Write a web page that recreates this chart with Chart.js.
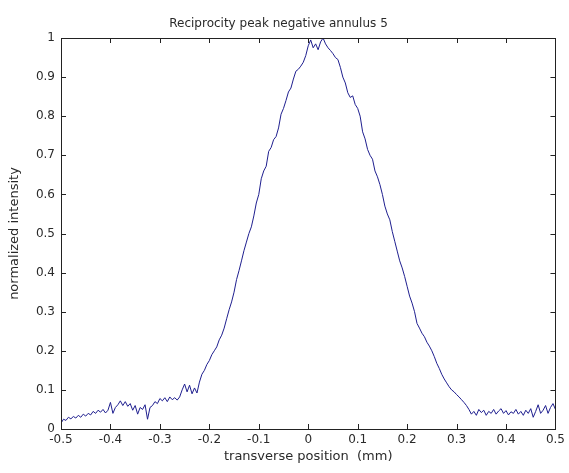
<!DOCTYPE html>
<html>
<head>
<meta charset="utf-8">
<script src="https://cdn.jsdelivr.net/npm/chart.js@4"></script>
<style>
  html, body { margin: 0; padding: 0; background: #fff; }
  #wrap { width: 569px; height: 473px; position: relative; }
</style>
</head>
<body>
<div id="wrap"><canvas id="myChart"></canvas></div>
<script>
// transverse position (mm)
const positions = [
  -0.5, -0.495, -0.49, -0.485, -0.48, -0.475, -0.47, -0.465, -0.46, -0.455,
  -0.45, -0.445, -0.44, -0.435, -0.43, -0.425, -0.42, -0.415, -0.41, -0.405,
  -0.4, -0.395, -0.39, -0.385, -0.38, -0.375, -0.37, -0.365, -0.36, -0.355,
  -0.35, -0.345, -0.34, -0.335, -0.33, -0.325, -0.32, -0.315, -0.31, -0.305,
  -0.3, -0.295, -0.29, -0.285, -0.28, -0.275, -0.27, -0.265, -0.26, -0.255,
  -0.25, -0.245, -0.24, -0.235, -0.23, -0.225, -0.22, -0.215, -0.21, -0.205,
  -0.2, -0.195, -0.19, -0.185, -0.18, -0.175, -0.17, -0.165, -0.16, -0.155,
  -0.15, -0.145, -0.14, -0.135, -0.13, -0.125, -0.12, -0.115, -0.11, -0.105,
  -0.1, -0.095, -0.09, -0.085, -0.08, -0.075, -0.07, -0.065, -0.06, -0.055,
  -0.05, -0.045, -0.04, -0.035, -0.03, -0.025, -0.02, -0.015, -0.01, -0.005,
  0, 0.005, 0.01, 0.015, 0.02, 0.025, 0.03, 0.035, 0.04, 0.045,
  0.05, 0.055, 0.06, 0.065, 0.07, 0.075, 0.08, 0.085, 0.09, 0.095,
  0.1, 0.105, 0.11, 0.115, 0.12, 0.125, 0.13, 0.135, 0.14, 0.145,
  0.15, 0.155, 0.16, 0.165, 0.17, 0.175, 0.18, 0.185, 0.19, 0.195,
  0.2, 0.205, 0.21, 0.215, 0.22, 0.225, 0.23, 0.235, 0.24, 0.245,
  0.25, 0.255, 0.26, 0.265, 0.27, 0.275, 0.28, 0.285, 0.29, 0.295,
  0.3, 0.305, 0.31, 0.315, 0.32, 0.325, 0.33, 0.335, 0.34, 0.345,
  0.35, 0.355, 0.36, 0.365, 0.37, 0.375, 0.38, 0.385, 0.39, 0.395,
  0.4, 0.405, 0.41, 0.415, 0.42, 0.425, 0.43, 0.435, 0.44, 0.445,
  0.45, 0.455, 0.46, 0.465, 0.47, 0.475, 0.48, 0.485, 0.49, 0.495,
  0.5
];

// normalized intensity
const intensity = [
  0.015, 0.025, 0.022, 0.030, 0.026, 0.032, 0.028, 0.035, 0.030, 0.038,
  0.033, 0.040, 0.036, 0.045, 0.040, 0.048, 0.043, 0.050, 0.041, 0.048,
  0.068, 0.040, 0.055, 0.062, 0.072, 0.060, 0.070, 0.058, 0.065, 0.048,
  0.060, 0.038, 0.055, 0.050, 0.062, 0.025, 0.055, 0.060, 0.070, 0.065,
  0.078, 0.072, 0.080, 0.070, 0.082, 0.075, 0.080, 0.074, 0.082, 0.100,
  0.115, 0.095, 0.112, 0.090, 0.105, 0.092, 0.120, 0.140, 0.150, 0.165,
  0.175, 0.190, 0.200, 0.210, 0.228, 0.240, 0.258, 0.282, 0.305, 0.325,
  0.350, 0.382, 0.405, 0.430, 0.456, 0.478, 0.500, 0.517, 0.545, 0.578,
  0.600, 0.640, 0.660, 0.672, 0.710, 0.720, 0.740, 0.748, 0.770, 0.805,
  0.820, 0.840, 0.862, 0.872, 0.895, 0.915, 0.920, 0.928, 0.938, 0.955,
  0.980, 0.995, 0.975, 0.985, 0.970, 0.990, 1.000, 0.985, 0.975, 0.968,
  0.960, 0.950, 0.945, 0.925, 0.900, 0.885, 0.860, 0.848, 0.852, 0.830,
  0.820, 0.800, 0.760, 0.742, 0.715, 0.700, 0.690, 0.660, 0.645, 0.625,
  0.600, 0.570, 0.550, 0.535, 0.505, 0.480, 0.455, 0.430, 0.412, 0.390,
  0.365, 0.340, 0.322, 0.300, 0.270, 0.258, 0.245, 0.236, 0.222, 0.212,
  0.200, 0.185, 0.168, 0.155, 0.140, 0.128, 0.118, 0.108, 0.100, 0.095,
  0.088, 0.082, 0.075, 0.068, 0.060, 0.050, 0.038, 0.045, 0.035, 0.050,
  0.042, 0.048, 0.035, 0.045, 0.040, 0.050, 0.038, 0.046, 0.052, 0.040,
  0.047, 0.036, 0.044, 0.040, 0.050, 0.038, 0.045, 0.035, 0.048, 0.040,
  0.052, 0.030, 0.045, 0.062, 0.040, 0.048, 0.060, 0.040, 0.055, 0.065,
  0.050
];

const xTickLabels = ['-0.5', '-0.4', '-0.3', '-0.2', '-0.1', '0', '0.1', '0.2', '0.3', '0.4', '0.5'];
const yTickLabels = ['0', '0.1', '0.2', '0.3', '0.4', '0.5', '0.6', '0.7', '0.8', '0.9', '1'];

const textColor = '#2a2a2a';
const fontFamily = '"DejaVu Sans", sans-serif';

// matlab style box with inward ticks
const boxPlugin = {
    id: 'matlabBox',
    afterDatasetsDraw(chart) {
        const { ctx, chartArea: a, scales } = chart;
        const len = 5;
        ctx.save();
        ctx.strokeStyle = '#222';
        ctx.lineWidth = 1;
        ctx.beginPath();
        scales.x.ticks.forEach(t => {
            const px = Math.round(scales.x.getPixelForValue(t.value)) + 0.5;
            ctx.moveTo(px, a.bottom); ctx.lineTo(px, a.bottom - len);
            ctx.moveTo(px, a.top); ctx.lineTo(px, a.top + len);
        });
        scales.y.ticks.forEach(t => {
            const py = Math.round(scales.y.getPixelForValue(t.value)) + 0.5;
            ctx.moveTo(a.left, py); ctx.lineTo(a.left + len, py);
            ctx.moveTo(a.right, py); ctx.lineTo(a.right - len, py);
        });
        ctx.stroke();
        ctx.strokeRect(Math.round(a.left) + 0.5, Math.round(a.top) + 0.5,
            Math.round(a.right - a.left), Math.round(a.bottom - a.top));
        ctx.restore();
    }
};

const setChart = () => {
    const ctx = document.getElementById('myChart');
    if (!ctx) return;
    new Chart(ctx, {
        type: 'line',
        data: {
            datasets: [{
                data: positions.map((x, i) => ({ x: x, y: intensity[i] })),
                borderColor: '#1f1f8f',
                borderWidth: 1,
                pointRadius: 0,
                tension: 0,
                fill: false
            }]
        },
        options: {
            responsive: true,
            maintainAspectRatio: false,
            animation: false,
            layout: { padding: { left: 0, right: 12, top: 0, bottom: 0 } },
            plugins: {
                legend: { display: false },
                tooltip: { enabled: false },
                title: {
                    display: true,
                    text: 'Reciprocity peak negative annulus 5',
                    color: textColor,
                    font: { family: fontFamily, size: 12, weight: 'normal' },
                    padding: { top: 17, bottom: 6.6 }
                }
            },
            scales: {
                x: {
                    type: 'linear',
                    min: -0.5,
                    max: 0.5,
                    grid: { display: false, drawTicks: false },
                    border: { display: false },
                    afterFit: s => { s.height = 44; },
                    ticks: {
                        stepSize: 0.1,
                        autoSkip: false,
                        maxRotation: 0,
                        padding: 4,
                        color: textColor,
                        font: { family: fontFamily, size: 12 },
                        callback: (v, i) => xTickLabels[i]
                    },
                    title: {
                        display: true,
                        text: 'transverse position  (mm)',
                        color: textColor,
                        font: { family: fontFamily, size: 13 },
                        padding: { top: 0, bottom: 9 }
                    }
                },
                y: {
                    min: 0,
                    max: 1,
                    grid: { display: false, drawTicks: false },
                    border: { display: false },
                    afterFit: s => { s.width = 61; },
                    ticks: {
                        stepSize: 0.1,
                        autoSkip: false,
                        padding: 6,
                        color: textColor,
                        font: { family: fontFamily, size: 12 },
                        callback: (v, i) => yTickLabels[i]
                    },
                    title: {
                        display: true,
                        text: 'normalized intensity',
                        color: textColor,
                        font: { family: fontFamily, size: 13 },
                        padding: { top: 7, bottom: 0 }
                    }
                }
            }
        },
        plugins: [boxPlugin]
    });
};

setChart();
</script>
</body>
</html>
